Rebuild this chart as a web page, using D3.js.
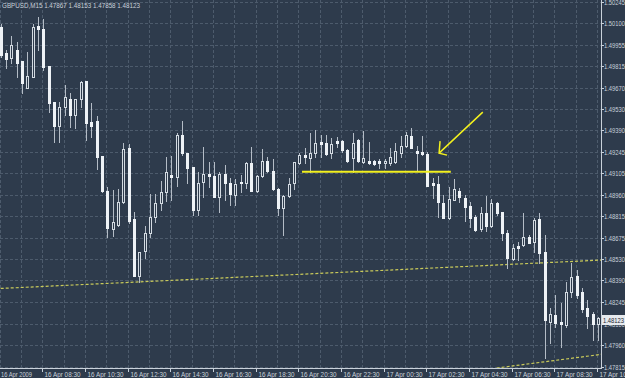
<!DOCTYPE html>
<html>
<head>
<meta charset="utf-8">
<script src="https://cdn.jsdelivr.net/npm/d3@7"></script>
<style>
  html, body { margin: 0; padding: 0; background: #2e3b4c; }
  svg { display: block; }
</style>
</head>
<body>
<svg id="chart"></svg>
<script>
// GBPUSD M15, 16 Apr 2009 06:30 -> 17 Apr 2009 10:30, one value per bar
const openP = [1.50076,1.49903,1.49870,1.49923,1.49850,1.49670,1.49743,1.50083,1.50063,1.49817,
  1.49577,1.49417,1.49544,1.49597,1.49490,1.49597,1.49717,1.49444,1.49450,1.49217,
  1.48985,1.48731,1.48758,1.48911,1.49271,1.48798,1.48419,1.48585,1.48705,1.48811,
  1.48905,1.48978,1.49091,1.49078,1.49357,1.49237,1.49144,1.48858,1.49044,1.49098,
  1.49084,1.48945,1.49098,1.49038,1.48958,1.49044,1.49038,1.49171,1.48985,1.49084,
  1.49184,1.49118,1.48998,1.48871,1.48951,1.49038,1.49171,1.49224,1.49204,1.49237,
  1.49311,1.49304,1.49237,1.49317,1.49317,1.49257,1.49204,1.49324,1.49178,1.49184,
  1.49184,1.49184,1.49171,1.49171,1.49178,1.49237,1.49284,1.49351,1.49251,1.49244,
  1.49231,1.49038,1.49031,1.48905,1.48805,1.48925,1.48985,1.48938,1.48885,1.48811,
  1.48731,1.48838,1.48751,1.48905,1.48845,1.48705,1.48532,1.48618,1.48625,1.48678,
  1.48645,1.48798,1.48578,1.48112,1.48159,1.48112,1.48093,1.48312,1.48419,1.48312,
  1.48206,1.48166,1.48099];
const highP = [1.50096,1.49923,1.50016,1.49976,1.49850,1.49910,1.50096,1.50143,1.50129,1.49817,
  1.49577,1.49577,1.49690,1.49637,1.49597,1.49717,1.49717,1.49570,1.49484,1.49217,
  1.49011,1.48991,1.48998,1.49304,1.49297,1.48845,1.48578,1.48751,1.48965,1.48965,
  1.49051,1.49211,1.49217,1.49371,1.49450,1.49237,1.49144,1.49111,1.49277,1.49178,
  1.49178,1.49111,1.49158,1.49071,1.49064,1.49091,1.49178,1.49277,1.49091,1.49264,
  1.49211,1.49197,1.49005,1.48958,1.49071,1.49178,1.49237,1.49271,1.49371,1.49391,
  1.49357,1.49357,1.49337,1.49344,1.49324,1.49264,1.49371,1.49331,1.49384,1.49311,
  1.49191,1.49197,1.49197,1.49271,1.49304,1.49351,1.49377,1.49404,1.49284,1.49351,
  1.49244,1.49071,1.49084,1.48958,1.49011,1.49064,1.49005,1.48958,1.48911,1.48825,
  1.48878,1.48951,1.48931,1.48911,1.48845,1.48725,1.48632,1.48645,1.48838,1.48692,
  1.48805,1.48838,1.48692,1.48206,1.48292,1.48239,1.48379,1.48505,1.48459,1.48339,
  1.48259,1.48179,1.48146];
const lowP = [1.49877,1.49803,1.49837,1.49743,1.49637,1.49670,1.49743,1.49923,1.49790,1.49510,
  1.49311,1.49311,1.49490,1.49411,1.49404,1.49544,1.49324,1.49344,1.49131,1.48978,
  1.48678,1.48685,1.48751,1.48905,1.48771,1.48419,1.48379,1.48538,1.48678,1.48778,
  1.48858,1.48918,1.48925,1.49018,1.49224,1.49038,1.48825,1.48825,1.48945,1.49011,
  1.48945,1.48845,1.48925,1.48891,1.48891,1.48978,1.49005,1.48985,1.48978,1.49078,
  1.49111,1.48991,1.48825,1.48692,1.48945,1.48998,1.49164,1.49171,1.49111,1.49211,
  1.49211,1.49224,1.49204,1.49277,1.49244,1.49178,1.49111,1.49178,1.49171,1.49164,
  1.49158,1.49138,1.49138,1.49158,1.49171,1.49211,1.49277,1.49271,1.49124,1.49224,
  1.49018,1.48938,1.48811,1.48805,1.48798,1.48925,1.48911,1.48785,1.48745,1.48718,
  1.48718,1.48718,1.48745,1.48825,1.48658,1.48472,1.48525,1.48525,1.48618,1.48638,
  1.48578,1.48505,1.47873,1.47973,1.48079,1.47946,1.48079,1.48279,1.48272,1.48179,
  1.48073,1.47993,1.47993];
const closeP = [1.49890,1.49863,1.49956,1.49837,1.49703,1.49750,1.50076,1.50063,1.49810,1.49570,
  1.49417,1.49544,1.49610,1.49490,1.49597,1.49710,1.49437,1.49417,1.49211,1.48985,
  1.48738,1.48778,1.48911,1.49264,1.48785,1.48419,1.48578,1.48705,1.48811,1.48905,
  1.48978,1.49111,1.49078,1.49357,1.49237,1.49138,1.48858,1.49038,1.49098,1.49084,
  1.48945,1.49098,1.49038,1.48965,1.49031,1.49038,1.49171,1.48985,1.49084,1.49184,
  1.49118,1.48998,1.48871,1.48951,1.49031,1.49178,1.49224,1.49211,1.49237,1.49304,
  1.49297,1.49231,1.49297,1.49304,1.49257,1.49184,1.49304,1.49184,1.49204,1.49171,
  1.49164,1.49171,1.49184,1.49211,1.49251,1.49284,1.49357,1.49271,1.49237,1.49231,
  1.49018,1.49024,1.48911,1.48805,1.48931,1.48998,1.48945,1.48878,1.48805,1.48725,
  1.48838,1.48751,1.48905,1.48838,1.48705,1.48538,1.48605,1.48605,1.48678,1.48638,
  1.48791,1.48572,1.48126,1.48166,1.48106,1.48099,1.48312,1.48412,1.48292,1.48199,
  1.48152,1.48099,1.48139];

const priceTicks = [1.50245,1.50100,1.49955,1.49815,1.49670,1.49530,1.49390,1.49245,1.49105,
  1.48960,1.48815,1.48675,1.48530,1.48390,1.48245,1.48100,1.47960,1.47815];
const timeLabels = ["16 Apr 2009","16 Apr 08:30","16 Apr 10:30","16 Apr 12:30","16 Apr 14:30",
  "16 Apr 16:30","16 Apr 18:30","16 Apr 20:30","16 Apr 22:30","17 Apr 00:30","17 Apr 02:30",
  "17 Apr 04:30","17 Apr 06:30","17 Apr 08:30","17 Apr 10:30"];
const barsPerLabel = 8;
const barsPerGrid = 4;

const header = "GBPUSD,M15 1.47867 1.48153 1.47858 1.48123";
const lastPrice = 1.48123;

// drawn objects: [bar index, price]
const trendLow = [[0, 1.48336], [112.6, 1.48525]];
const trendBottom = [[93.0, 1.47806], [112.6, 1.47897]];
const supportLine = [[56.5, 1.49113], [84.4, 1.49113]];
const arrowLine = [[90.4, 1.49510], [82.2, 1.49237]];

const width = 625, height = 378;
const plotRight = 601, plotBottom = 368;
const bg = "#2e3b4c", fg = "#c9d1da", gridColor = "#4d5b6c";

const svg = d3.select("#chart").attr("width", width).attr("height", height)
  .style("font-family", "'Liberation Sans', Arial, sans-serif");

svg.append("rect").attr("width", width).attr("height", height).attr("fill", bg);

const x = d3.scaleLinear().domain([0, 112]).range([0.7, 598]);
const y = d3.scaleLinear().domain([1.47815, 1.50245]).range([366.7, 1.7]);

const crisp = v => Math.round(v) + 0.5;

// grid
const grid = svg.append("g").attr("stroke", gridColor).attr("stroke-dasharray", "3,2");
grid.selectAll("line.h").data(priceTicks).enter().append("line")
  .attr("x1", 0).attr("x2", plotRight)
  .attr("y1", d => crisp(y(d))).attr("y2", d => crisp(y(d)));
grid.selectAll("line.v").data(d3.range(0, 113, barsPerGrid)).enter().append("line")
  .attr("y1", 0).attr("y2", plotBottom)
  .attr("x1", d => crisp(x(d) - 1)).attr("x2", d => crisp(x(d) - 1));

const plot = svg.append("g");
plot.append("clipPath").attr("id", "clip").append("rect")
  .attr("width", plotRight).attr("height", plotBottom);
const marks = plot.append("g").attr("clip-path", "url(#clip)");

// trend lines
const line = d3.line().x(d => x(d[0])).y(d => y(d[1]));
[trendLow, trendBottom].forEach(t => {
  marks.append("path").attr("d", line(t)).attr("fill", "none")
    .attr("stroke", "#c8c95a").attr("stroke-width", 1.2).attr("stroke-dasharray", "3,2");
});

// candles
const bars = d3.range(openP.length).map(i => ({
  i, o: openP[i], h: highP[i], l: lowP[i], c: closeP[i]
}));
const candle = marks.selectAll("g.candle").data(bars).enter().append("g");
candle.append("line")
  .attr("x1", d => Math.round(x(d.i)) + 0.5).attr("x2", d => Math.round(x(d.i)) + 0.5)
  .attr("y1", d => Math.round(y(d.h))).attr("y2", d => Math.round(y(d.l)) + 1)
  .attr("stroke", "#b4bcc6");
candle.append("rect")
  .attr("x", d => Math.round(x(d.i)) - 0.5)
  .attr("width", 2)
  .attr("y", d => crisp(y(Math.max(d.o, d.c))))
  .attr("height", d => Math.max(1, Math.round(Math.abs(y(d.o) - y(d.c)))))
  .attr("fill", d => d.c < d.o ? "#eef2f6" : bg)
  .attr("stroke", d => d.c < d.o ? "#eef2f6" : "#d4dbe2");

// support level
marks.append("path").attr("d", line(supportLine))
  .attr("stroke", "#f2f01e").attr("stroke-width", 2).attr("fill", "none");

// arrow
const a0 = [x(arrowLine[0][0]), y(arrowLine[0][1])];
const a1 = [x(arrowLine[1][0]), y(arrowLine[1][1])];
marks.append("path")
  .attr("d", `M${a0[0]},${a0[1]}L${a1[0]},${a1[1]}M${a1[0] + 1},${a1[1] - 12}L${a1[0]},${a1[1]}L${a1[0] + 8},${a1[1] + 2}`)
  .attr("stroke", "#f2f01e").attr("stroke-width", 1.5).attr("fill", "none");

// frame
svg.append("line").attr("x1", plotRight + 0.5).attr("x2", plotRight + 0.5)
  .attr("y1", 0).attr("y2", plotBottom + 1).attr("stroke", fg);
svg.append("line").attr("x1", 0).attr("x2", plotRight + 1)
  .attr("y1", plotBottom + 0.5).attr("y2", plotBottom + 0.5).attr("stroke", fg);

// price axis
const pAxis = svg.append("g");
priceTicks.forEach(p => {
  const yy = crisp(y(p));
  pAxis.append("line").attr("x1", plotRight).attr("x2", plotRight + 3)
    .attr("y1", yy).attr("y2", yy).attr("stroke", fg);
  pAxis.append("text").attr("x", 604).attr("y", yy + 2.5)
    .attr("fill", fg).attr("font-size", 7.5)
    .attr("textLength", 21).attr("lengthAdjust", "spacingAndGlyphs").text(p.toFixed(5));
});
const ly = y(lastPrice);
pAxis.append("rect").attr("x", 602).attr("y", Math.round(ly) - 5).attr("width", 24).attr("height", 10)
  .attr("fill", "#e6eaee");
pAxis.append("text").attr("x", 603).attr("y", Math.round(ly) + 3)
  .attr("fill", "#1c2430").attr("font-size", 7.5)
  .attr("textLength", 21).attr("lengthAdjust", "spacingAndGlyphs").text(lastPrice.toFixed(5));

// time axis
const tAxis = svg.append("g");
timeLabels.forEach((t, j) => {
  const xx = j === 0 ? 0 : crisp(x(j * barsPerLabel) - 1);
  if (j > 0) tAxis.append("line").attr("x1", xx).attr("x2", xx)
    .attr("y1", plotBottom).attr("y2", plotBottom + 4).attr("stroke", fg);
  tAxis.append("text").attr("x", j === 0 ? 1 : xx + 2).attr("y", 376.5)
    .attr("fill", fg).attr("font-size", 7.5)
    .attr("textLength", j === 0 ? 31 : 36).attr("lengthAdjust", "spacingAndGlyphs").text(t);
});

// header
svg.append("text").attr("x", 2).attr("y", 8).attr("fill", fg)
  .attr("font-size", 7.5).attr("textLength", 138).attr("lengthAdjust", "spacingAndGlyphs")
  .text(header);
</script>
</body>
</html>
